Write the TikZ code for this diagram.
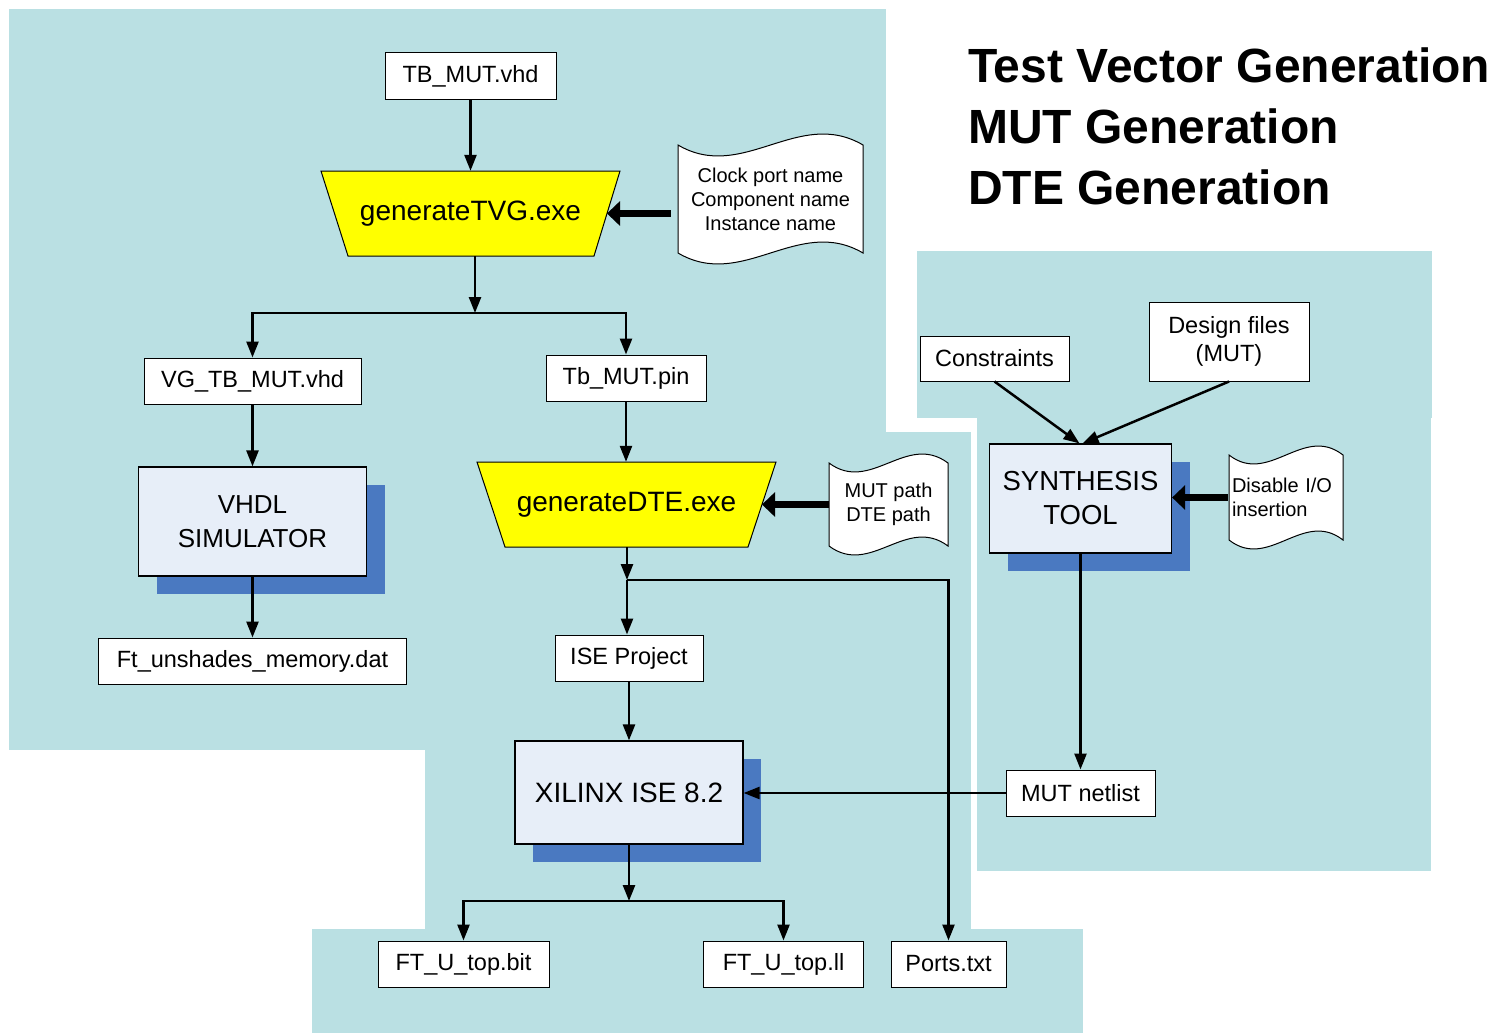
\documentclass[tikz,border=0pt]{standalone}
\usepackage{fontspec}
\setmainfont{Liberation Sans}
\usetikzlibrary{arrows.meta,shadows,calc}
\definecolor{bgc}{HTML}{BAE0E3}
\definecolor{boxfill}{HTML}{E7EEF8}
\definecolor{shadowc}{HTML}{4A79C1}
\definecolor{procyellow}{HTML}{FFFF00}
\newcommand\myfs[2]{\fontsize{#1}{#2}\selectfont}
% tape (wavy document) outline: L T R B c
\newcommand\tapedoc[5]{%
  \draw[line width=1pt,fill=white] (#1,#2) .. controls ({#1+0.35*(#3-#1)},{#2+#5}) and ({#1+0.65*(#3-#1)},{#2-#5}) .. (#3,#2)
    -- (#3,#4) .. controls ({#1+0.65*(#3-#1)},{#4-#5}) and ({#1+0.35*(#3-#1)},{#4+#5}) .. (#1,#4) -- cycle;}
\begin{document}
\begin{tikzpicture}[x=1pt,y=-1pt,
  filebox/.style={draw=black,line width=1pt,fill=white,inner sep=0pt,minimum height=46pt,font=\myfs{23.5}{28},align=center},
  procbox/.style={draw=black,line width=1.2pt,fill=boxfill,inner sep=0pt,font=\myfs{27.5}{34},align=center,
    drop shadow={shadow xshift=18pt,shadow yshift=-18pt,fill=shadowc,opacity=1}},
  trap/.style={inner sep=0pt,minimum width=299pt,minimum height=85pt,font=\myfs{28}{34}},
  doctext/.style={inner sep=0pt,font=\myfs{20}{24},align=center},
  arr/.style={line width=2.5pt,-{Triangle[length=16pt,width=12pt]}},
  fatarr/.style={line width=7pt,-{Triangle[length=13pt,width=24pt]}},
  title/.style={anchor=base west,inner sep=0pt,font=\myfs{48}{58}\bfseries}]
\useasboundingbox (0,0) rectangle (1498,1033);
% background regions
\fill[bgc] (9,9) rectangle (886,750);
\fill[bgc] (425,432) rectangle (971,930);
\fill[bgc] (312,929) rectangle (1083,1033);
\fill[bgc] (917,251) rectangle (1432,418);
\fill[bgc] (977,417) rectangle (1431,871);

% titles
\node[title] (t1) at (968,82) {Test Vector Generation};
\node[title] (t2) at (968,143) {MUT Generation};
\node[title] (t3) at (968,204) {DTE Generation};

% trapezoids
\draw[line width=1pt,fill=procyellow] (321,171) -- (620,171) -- (594,256) -- (348,256) -- cycle;
\node[trap] (tvg) at (470.5,213.5) {generateTVG.exe};
\coordinate (tvgR) at (607,213.5);
\draw[line width=1pt,fill=procyellow] (477,462) -- (776,462) -- (748,547) -- (505,547) -- cycle;
\node[trap] (dte) at (626.5,504.5) {generateDTE.exe};
\coordinate (dteR) at (762,504.5);

% documents
\tapedoc{678}{145}{863}{253}{38}
\node[doctext,minimum width=185pt,minimum height=108pt] (clk) at (770.5,199) {Clock port name\\Component name\\Instance name};
\tapedoc{829}{463}{948}{546}{31}
\node[doctext,minimum width=119pt,minimum height=83pt] (mutp) at (888.5,504.5) {MUT path\\DTE path};
\tapedoc{1229}{455}{1343}{540}{31}
\node[doctext,align=left,text width=108pt,inner xsep=4pt,minimum height=85pt] (dis) at (1286,497.5) {Disable I/O\\insertion};

% file boxes
\node[filebox,minimum width=171pt] (tbmut) at (470.5,76) {TB\_MUT.vhd};
\node[filebox,minimum width=217pt] (vgtb) at (252.5,381) {VG\_TB\_MUT.vhd};
\node[filebox,minimum width=160pt] (tbpin) at (626,378) {Tb\_MUT.pin};
\node[filebox,minimum width=308pt] (ftmem) at (252.5,661) {Ft\_unshades\_memory.dat};
\node[filebox,minimum width=148pt] (isep) at (629,658) {ISE Project};
\node[filebox,minimum width=171pt] (ftbit) at (463.5,964) {FT\_U\_top.bit};
\node[filebox,minimum width=160pt] (ftll) at (783.5,964) {FT\_U\_top.ll};
\node[filebox,minimum width=115pt] (ports) at (948.5,964) {Ports.txt};
\node[filebox,minimum width=149pt] (mutnet) at (1080.5,793) {MUT netlist};
\node[filebox,minimum width=149pt,minimum height=45pt] (cons) at (994.5,358.5) {Constraints};
\node[filebox,minimum width=160pt,minimum height=79pt] (design) at (1229,341.5) {Design files\\(MUT)};

% process boxes
\node[procbox,minimum width=228pt,minimum height=109pt,font=\myfs{26}{34}] (vhdl) at (252.5,521.5) {VHDL\\SIMULATOR};
\node[procbox,minimum width=228pt,minimum height=103pt,font=\myfs{28}{34}] (xil) at (629,792.5) {XILINX ISE 8.2};
\node[procbox,minimum width=182pt,minimum height=109pt] (synth) at (1080.5,498.5) {SYNTHESIS\\TOOL};

% junctions
\coordinate (j1) at (475,313);
\coordinate (j2) at (627,580);
\coordinate (j3) at (629,901);

% connectors
\draw[arr] (tbmut.south) -- (tvg.north);
\draw[arr] ([xshift=4.5pt]tvg.south) -- (j1);
\draw[arr] (j1) -| (vgtb.north);
\draw[arr] (j1) -| (tbpin.north);
\draw[arr] (vgtb.south) -- (vhdl.north);
\draw[arr] (vhdl.south) -- (ftmem.north);
\draw[arr] (tbpin.south) -- (tbpin.south |- dte.north);
\draw[arr] (dte.south -| j2) -- (j2);
\draw[arr] (j2) -| (ports.north);
\draw[arr] (j2) -- (j2 |- isep.north);
\draw[arr] (isep.south) -- (xil.north);
\draw[arr] (xil.south) -- (j3);
\draw[arr] (j3) -| (ftbit.north);
\draw[arr] (j3) -| (ftll.north);
\draw[arr] (mutnet.west) -- (xil.east |- mutnet.west);
\draw[arr] (synth.south) -- (mutnet.north);
\draw[arr] (cons.south) -- ([xshift=-1pt]synth.north);
\draw[arr] (design.south) -- ([xshift=2pt]synth.north);
\draw[fatarr,shorten <=7pt] (clk.west |- tvgR) -- (tvgR);
\draw[fatarr] (mutp.west) -- (dteR);
\draw[fatarr] (dis.west) -- (synth.east |- dis.west);
\end{tikzpicture}
\end{document}
